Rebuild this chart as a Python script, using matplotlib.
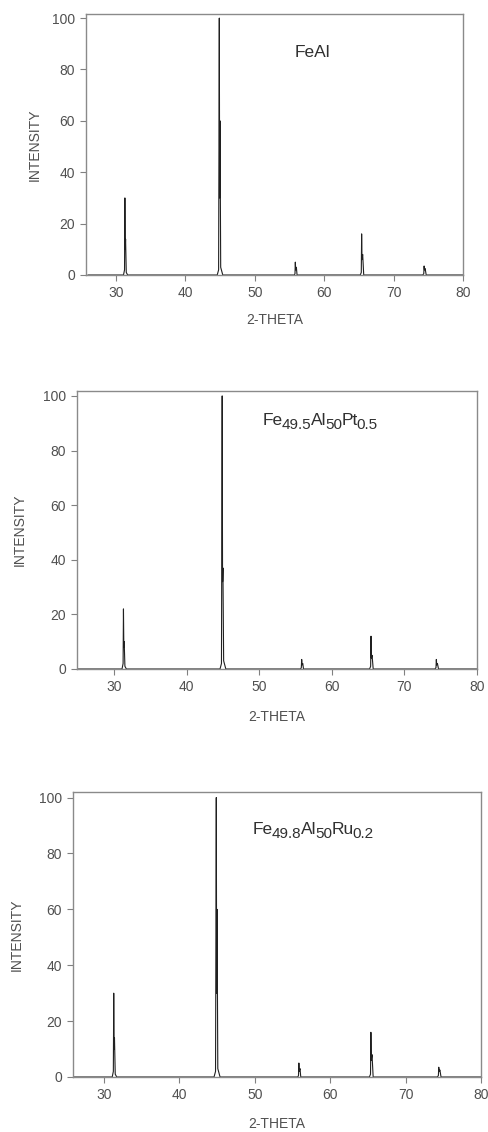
import matplotlib
matplotlib.use("Agg")
from matplotlib import pyplot as plt

# 2-theta / intensity points (Ka1 + Ka2 shoulder per peak)
feal_theta = [26.0, 31.1, 31.25, 31.3, 31.35, 31.4, 31.5, 31.7,
              44.6, 44.8, 44.9, 44.95, 45.0, 45.1, 45.4,
              55.7, 55.8, 55.85, 55.9, 56.0, 56.1,
              65.2, 65.35, 65.4, 65.45, 65.55, 65.7,
              74.2, 74.35, 74.4, 74.45, 74.55, 74.7, 80.0]
feal_int = [0, 0, 2, 30, 10, 14, 1, 0,
            0, 2, 100, 30, 60, 3, 0,
            0, 0.5, 5, 2, 3, 0,
            0, 1, 16, 6, 8, 0,
            0, 0.5, 3.5, 2, 2.5, 0, 0]

pt_theta = [25.0, 31.1, 31.25, 31.3, 31.35, 31.4, 31.5, 31.7,
            44.6, 44.8, 44.9, 44.95, 45.0, 45.1, 45.4,
            55.7, 55.8, 55.85, 55.9, 56.0, 56.1,
            65.2, 65.35, 65.4, 65.45, 65.55, 65.7,
            74.2, 74.35, 74.4, 74.45, 74.55, 74.7, 80.0]
pt_int = [0, 0, 2, 22, 8, 10, 1, 0,
          0, 2, 100, 32, 37, 3, 0,
          0, 0.5, 3.5, 1.5, 2, 0,
          0, 1, 12, 4, 5, 0,
          0, 0.5, 3.5, 1.5, 2, 0, 0]

ru_theta = [26.0, 31.1, 31.25, 31.3, 31.35, 31.4, 31.5, 31.7,
            44.6, 44.8, 44.9, 44.95, 45.0, 45.1, 45.4,
            55.7, 55.8, 55.85, 55.9, 56.0, 56.1,
            65.2, 65.35, 65.4, 65.45, 65.55, 65.7,
            74.2, 74.35, 74.4, 74.45, 74.55, 74.7, 80.0]
ru_int = [0, 0, 2, 30, 10, 14, 1, 0,
          0, 2, 100, 30, 60, 3, 0,
          0, 0.5, 5, 2, 3, 0,
          0, 1, 16, 6, 8, 0,
          0, 0.5, 3.5, 2, 2.5, 0, 0]

# sample names as (text, is_subscript) pieces
labels = [[('FeAl', False)],
          [('Fe', False), ('49.5', True), ('Al', False), ('50', True), ('Pt', False), ('0.5', True)],
          [('Fe', False), ('49.8', True), ('Al', False), ('50', True), ('Ru', False), ('0.2', True)]]
xticks = [30, 40, 50, 60, 70, 80]
yticks = [0, 20, 40, 60, 80, 100]

plt.rcParams['font.family'] = ['Liberation Sans', 'DejaVu Sans']

W, H = 488, 1132
fig = plt.figure(figsize=(W / 100, H / 100), dpi=100)
renderer = fig.canvas.get_renderer()

# panel boxes in pixels: left, right, top, bottom
boxes = [(86, 463, 14, 275), (77, 477, 391, 669), (73, 481, 792, 1077)]
xlims = [(25.7, 80), (24.9, 80), (25.9, 80)]
ylims = [(0, 101.6), (0, 101.8), (0, 102)]
label_pos = [(295, 57), (263, 425), (253, 834)]
ylab_x = [35, 20, 17]
xlab_y = [320, 717, 1124]
data = [(feal_theta, feal_int), (pt_theta, pt_int), (ru_theta, ru_int)]

grey = '#505050'
for i in range(3):
    l, r, t, b = boxes[i]
    ax = fig.add_axes([l / W, 1 - b / H, (r - l) / W, (b - t) / H])
    x, y = data[i]
    ax.plot(x, y, color='#202020', linewidth=0.8)
    ax.set_xlim(*xlims[i])
    ax.set_ylim(*ylims[i])
    ax.set_xticks(xticks)
    ax.set_yticks(yticks)
    ax.tick_params(direction='out', length=4, width=0.8, color='#808080',
                   labelsize=10, labelcolor=grey, pad=4)
    for s in ax.spines.values():
        s.set_color('#8a8a8a')
        s.set_linewidth(1.0)
    fig.text(ylab_x[i] / W, 1 - (t + b) / 2 / H, 'INTENSITY', rotation=90,
             ha='center', va='center', fontsize=10, color=grey)
    fig.text((l + r) / 2 / W, 1 - xlab_y[i] / H, '2-THETA',
             ha='center', va='center', fontsize=10, color=grey)
    # chemical formula, pieces laid out one after the other
    px, py = label_pos[i]
    for piece, sub in labels[i]:
        yy = py + 4 if sub else py
        txt = fig.text(px / W, 1 - yy / H, piece, ha='left', va='baseline',
                       fontsize=11 if sub else 12.5, color='#303030')
        px += txt.get_window_extent(renderer).width - 1

fig.savefig('out.png', dpi=100)
